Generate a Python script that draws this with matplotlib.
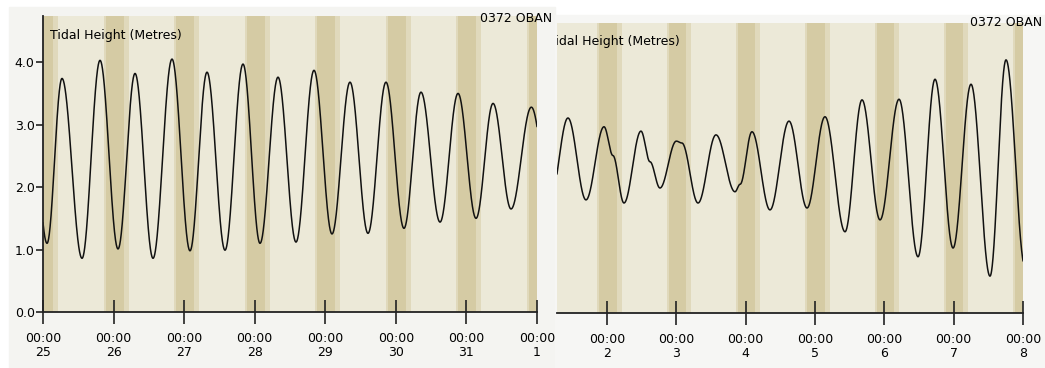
import numpy as np
import matplotlib
matplotlib.use("Agg")
import matplotlib.pyplot as plt
from matplotlib.patches import Rectangle

# high / low waters (plus a few stands), days from 25 Jul 00:00, metres
left_times = [-0.19, 0.057, 0.269, 0.553, 0.808, 1.063, 1.304, 1.559, 1.828, 2.083,
              2.324, 2.579, 2.834, 3.075, 3.330, 3.585, 3.840, 4.095, 4.350, 4.605,
              4.860, 5.115, 5.356, 5.626, 5.881, 6.136, 6.377, 6.632, 6.920, 7.19]
left_heights = [3.70, 1.10, 3.74, 0.86, 4.03, 1.01, 3.82, 0.86, 4.05, 0.98,
                3.84, 0.99, 3.97, 1.10, 3.76, 1.12, 3.87, 1.25, 3.68, 1.26,
                3.68, 1.34, 3.52, 1.44, 3.50, 1.50, 3.34, 1.65, 3.28, 1.75]

right_times = [7.18, 7.437, 7.697, 7.957, 8.085, 8.245, 8.490, 8.620, 8.764, 9.000,
               9.080, 9.313, 9.572, 9.846, 9.920, 10.091, 10.351, 10.625, 10.885,
               11.144, 11.433, 11.678, 11.938, 12.212, 12.486, 12.731, 12.991,
               13.250, 13.524, 13.755, 14.03]
right_heights = [1.80, 3.12, 1.81, 2.98, 2.52, 1.76, 2.91, 2.42, 2.00, 2.75,
                 2.72, 1.76, 2.85, 1.94, 2.06, 2.90, 1.65, 3.07, 1.68,
                 3.14, 1.30, 3.41, 1.49, 3.42, 0.90, 3.74, 1.04,
                 3.66, 0.59, 4.05, 0.74]

left_ticks = [0, 1, 2, 3, 4, 5, 6, 7]
left_days = ["25", "26", "27", "28", "29", "30", "31", "1"]
right_ticks = [8, 9, 10, 11, 12, 13, 14]
right_days = ["2", "3", "4", "5", "6", "7", "8"]
height_ticks = [0.0, 1.0, 2.0, 3.0, 4.0]

# darkness around each midnight, hours from 00:00
dusk, dark_start, dark_end, dawn = -3.4, -2.7, 3.4, 5.1

DAY = "#ece9d8"
TWILIGHT = "#e0d9bc"
NIGHT = "#d5cba4"
PANEL = "#f4f4f1"


def tide_curve(times, heights, t):
    # cosine shape between successive turning points
    times = np.asarray(times)
    heights = np.asarray(heights)
    i = np.clip(np.searchsorted(times, t) - 1, 0, len(times) - 2)
    f = (t - times[i]) / (times[i + 1] - times[i])
    return heights[i] + (heights[i + 1] - heights[i]) * (1 - np.cos(np.pi * f)) / 2


def draw_panel(ax, times, heights, ticks, days, xlim, ylim):
    ax.set_facecolor(DAY)
    for d in range(int(np.floor(xlim[0])), int(np.ceil(xlim[1])) + 1):
        ax.axvspan(d + dusk / 24, d + dawn / 24, color=TWILIGHT, lw=0)
        ax.axvspan(d + dark_start / 24, d + dark_end / 24, color=NIGHT, lw=0)
    t = np.linspace(xlim[0], xlim[1], 3000)
    ax.plot(t, tide_curve(times, heights, t), color="#111111", lw=1.1)
    ax.set_xlim(*xlim)
    ax.set_ylim(*ylim)
    ax.set_xticks(ticks)
    ax.set_xticklabels(["00:00\n" + d for d in days], fontsize=9, linespacing=1.05)
    ax.tick_params(axis="x", direction="inout", length=17, width=1.2,
                   color="#222222", pad=6)
    for s in ["top", "right"]:
        ax.spines[s].set_visible(False)
    ax.spines["bottom"].set_color("#222222")
    ax.spines["bottom"].set_linewidth(1.3)
    ax.spines["bottom"].set_zorder(5)


fig = plt.figure(figsize=(10.45, 3.68), dpi=100)
fig.patch.set_facecolor("white")
fig.patches.append(Rectangle((9 / 1045, 0), 546 / 1045, 361 / 368,
                             transform=fig.transFigure, color=PANEL, zorder=-2))
fig.patches.append(Rectangle((555 / 1045, 0), 490 / 1045, 353 / 368,
                             transform=fig.transFigure, color="#f6f6f4", zorder=-2))

ax1 = fig.add_axes([43 / 1045, 56 / 368, 494 / 1045, 296 / 368])
draw_panel(ax1, left_times, left_heights, left_ticks, left_days, (0, 7), (0, 4.74))
ax1.set_yticks(height_ticks)
ax1.set_yticklabels([f"{v:.1f}" for v in height_ticks], fontsize=9)
ax1.tick_params(axis="y", direction="out", length=5, width=1.2, color="#222222", pad=1)
ax1.spines["left"].set_color("#222222")
ax1.spines["left"].set_linewidth(1.3)
ax1.text(0.1, 4.43, "Tidal Height (Metres)", fontsize=9, va="center")

ax2 = fig.add_axes([557 / 1045, 55 / 368, 466 / 1045, 290 / 368])
draw_panel(ax2, right_times, right_heights, right_ticks, right_days,
           (7.279, 14), (0, 4.64))
ax2.spines["left"].set_visible(False)
ax2.set_yticks([])
ax2.text(7.15, 4.34, "Tidal Height (Metres)", fontsize=9, va="center", clip_on=True)

fig.text(516 / 1045, 1 - 18 / 368, "0372 OBAN", fontsize=9, ha="center", va="center")
fig.text(1006 / 1045, 1 - 23 / 368, "0372 OBAN", fontsize=9, ha="center", va="center")

fig.savefig("out.png", dpi=100)
